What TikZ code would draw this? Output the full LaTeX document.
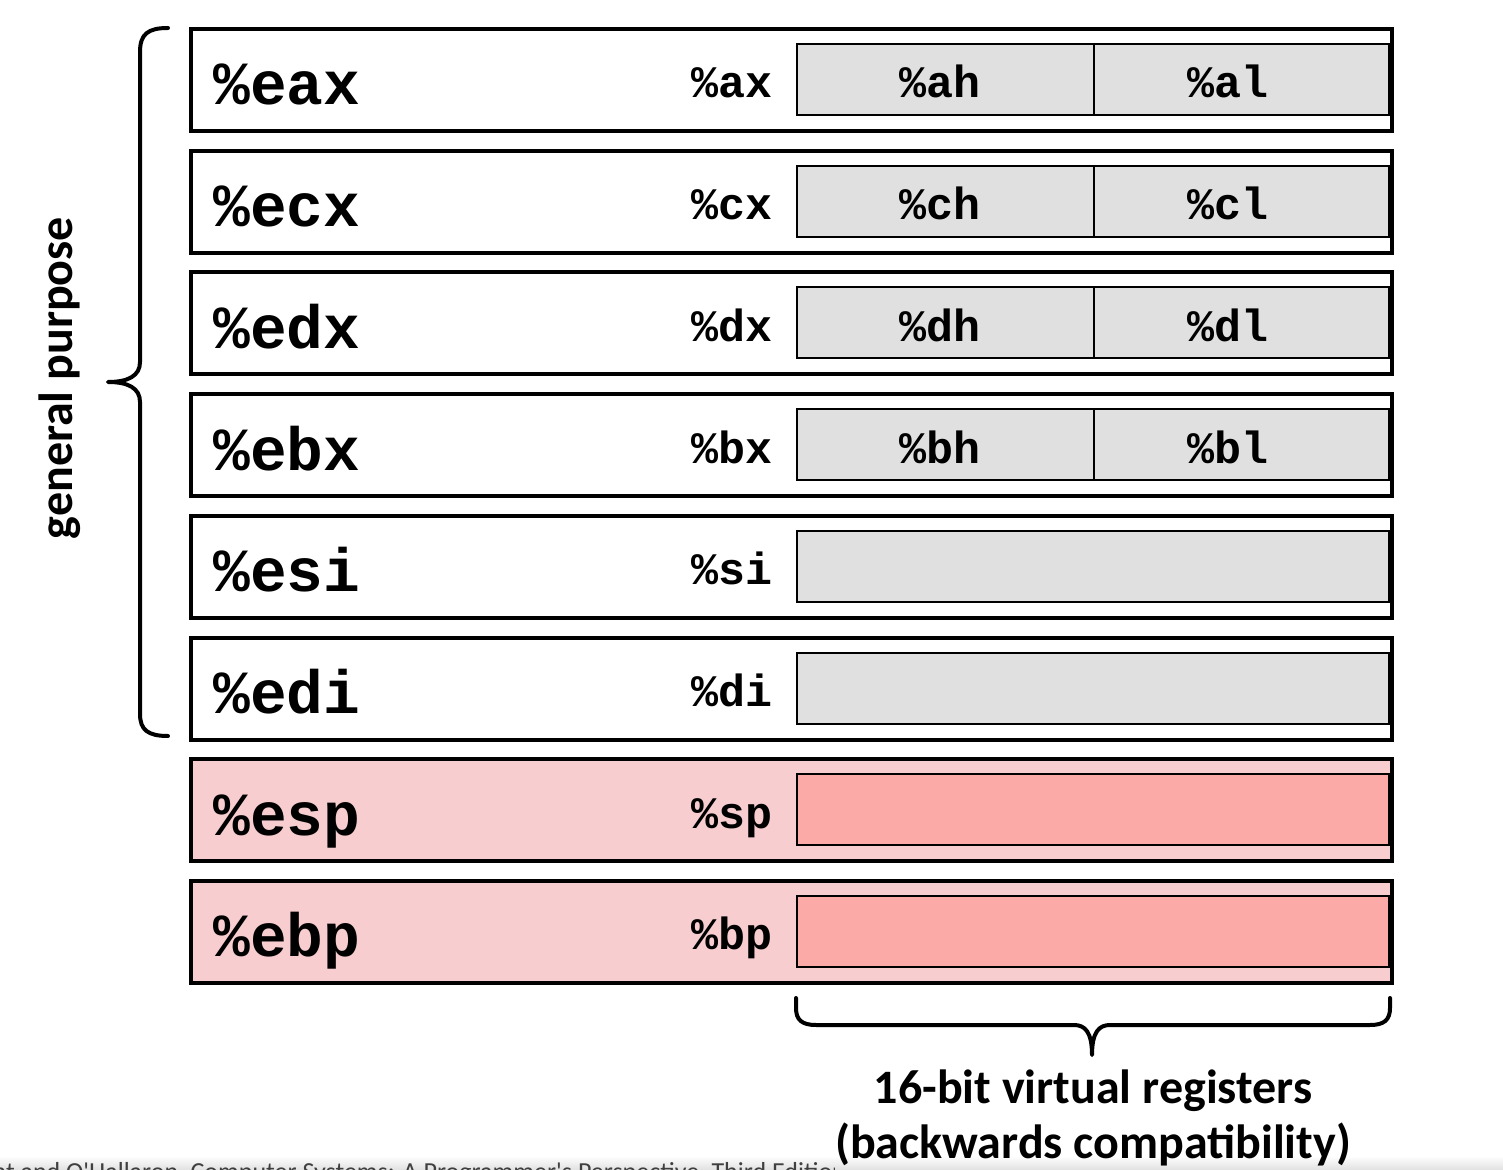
\documentclass[tikz,border=0pt]{standalone}
\usepackage{fontspec}
\newfontfamily\regfont{Liberation Mono}
\newfontfamily\labfont{Carlito}
\usetikzlibrary{positioning}
\definecolor{regfill}{RGB}{224,224,224}
\definecolor{pinkout}{RGB}{247,205,207}
\definecolor{pinkin}{RGB}{252,170,168}
\tikzset{
  outerbox/.style={draw=black, line width=2pt, minimum width=600.5pt, minimum height=51pt, inner sep=0pt, anchor=north west},
  innerwide/.style={draw=black, line width=1pt, minimum width=296pt, minimum height=35.5pt, inner sep=0pt, anchor=north west},
  innerhalf/.style={draw=black, line width=1pt, minimum width=148.5pt, minimum height=35.5pt, inner sep=0pt, anchor=north west},
  innerhalfr/.style={draw=black, line width=1pt, minimum width=147.5pt, minimum height=35.5pt, inner sep=0pt, anchor=north west},
  biglab/.style={font=\regfont\bfseries\fontsize{30.6pt}{32pt}\selectfont, anchor=base west, inner sep=0pt},
  midlab/.style={font=\regfont\bfseries\fontsize{22.5pt}{24pt}\selectfont, inner sep=0pt},
  bracestyle/.style={line width=2pt, line cap=round, line join=round},
  sidelab/.style={font=\labfont\bfseries\fontsize{24pt}{28pt}\selectfont, inner sep=0pt},
}
\begin{document}
\begin{tikzpicture}[x=0.5pt,y=-0.5pt]
\useasboundingbox (0,0) rectangle (1503,1170);
\clip (0,0) rectangle (1503,1170);
% footer band
\shade[top color=white, bottom color=black!12] (0,1156) rectangle (1503,1170);
\begin{scope}
\clip (0,1140) rectangle (834,1170);
\node[font=\labfont\fontsize{13pt}{15pt}\selectfont, anchor=base west, inner sep=0pt, text=black!75] (footer) at (-55,1180) {Bryant and O'Hallaron, Computer Systems: A Programmer's Perspective, Third Edition};
\end{scope}
% rows
\foreach \i/\big/\mid/\hi/\lo/\kind in {
  1/eax/ax/ah/al/g, 2/ecx/cx/ch/cl/g, 3/edx/dx/dh/dl/g, 4/ebx/bx/bh/bl/g,
  5/esi/si/-/-/w, 6/edi/di/-/-/w, 7/esp/sp/-/-/p, 8/ebp/bp/-/-/p} {
  \pgfmathsetmacro{\top}{27+(\i-1)*121.7}
  \if\kind p
    \node[outerbox, fill=pinkout] (r\i) at (189,\top) {};
    \node[innerwide, fill=pinkin] (in\i) at (796,\top+16) {};
  \else
    \node[outerbox, fill=white] (r\i) at (189,\top) {};
    \if\kind g
      \node[innerhalf, fill=regfill] (hi\i) at (796,\top+16) {};
      \node[innerhalfr, fill=regfill] (lo\i) at (1093,\top+16) {};
      \node[midlab, anchor=base] (hl\i) at (940,\top+71) {\%\hi};
      \node[midlab, anchor=base] (ll\i) at (1228,\top+71) {\%\lo};
    \else
      \node[innerwide, fill=regfill] (in\i) at (796,\top+16) {};
    \fi
  \fi
  \node[biglab] (b\i) at (213,\top+78) {\%\big};
  \node[midlab, anchor=base east] (m\i) at (773,\top+71) {\%\mid};
}
% left brace
\draw[bracestyle] (168,28) .. controls (148,28) and (140,34) .. (140,52) -- (140,362)
  .. controls (140,376) and (128,382) .. (108,382)
  .. controls (128,382) and (140,388) .. (140,402) -- (140,714)
  .. controls (140,730) and (148,736) .. (168,736);
\node[sidelab, rotate=90] (gp) at (60,378) {general purpose};
% bottom brace
\draw[bracestyle] (796,998) -- (796,1008) .. controls (796,1020) and (802,1025) .. (816,1025) -- (1074,1025)
  .. controls (1085,1025) and (1092,1032) .. (1092,1055)
  .. controls (1092,1032) and (1099,1025) .. (1110,1025) -- (1370,1025)
  .. controls (1384,1025) and (1390,1020) .. (1390,1008) -- (1390,998);
\node[sidelab, align=center, anchor=north, inner xsep=2pt, inner ysep=10pt, font=\labfont\bfseries\fontsize{24pt}{27.5pt}\selectfont] (vr) at (1093,1049) {16-bit virtual registers\\(backwards compatibility)};
\end{tikzpicture}
\end{document}
